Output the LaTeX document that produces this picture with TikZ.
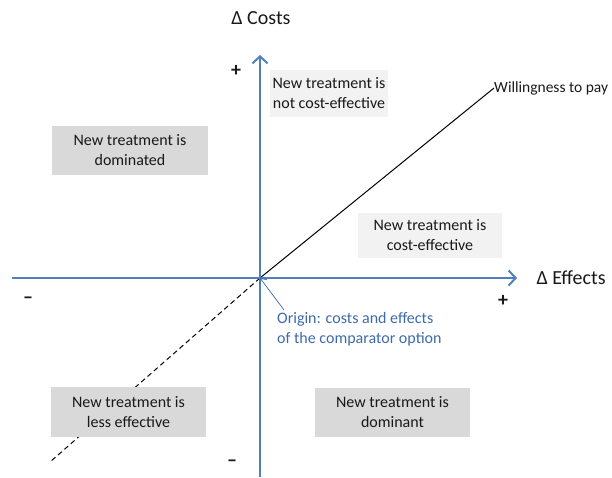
\documentclass[tikz,border=0pt]{standalone}
\usepackage{fontspec}
\setmainfont{Carlito}
\usetikzlibrary{arrows.meta}
\definecolor{axisblue}{RGB}{79,129,189}
\definecolor{noteblue}{RGB}{62,106,170}
\definecolor{darkbox}{RGB}{217,217,217}
\definecolor{lightbox}{RGB}{242,242,242}

\begin{document}
\begin{tikzpicture}[x=1pt,y=-1pt,
    every node/.style={text=black!90, font=\fontsize{16}{20}\selectfont},
    quadbox/.style={fill=darkbox, align=center, inner sep=0pt, minimum width=155pt, minimum height=49pt},
    axis/.style={axisblue, line width=2pt, -{Straight Barb[length=7pt,width=15pt,line width=2pt]}},
    bigtext/.style={font=\fontsize{20}{24}\selectfont},
    signtext/.style={font=\bfseries\fontsize{20}{24}\selectfont}]
    \useasboundingbox (0,0) rectangle (612,478);
    % axes
    \coordinate (O) at (260,278);
    \coordinate (xl) at (12,278);
    \coordinate (xr) at (517,278);
    \coordinate (yb) at (260,477);
    \coordinate (yt) at (260,55);
    \coordinate (dl) at (50,462);
    \node[bigtext] (dcost) at (261,18) {Δ Costs};
    \node[bigtext, anchor=west] (deff) at (533,278) {Δ Effects};
    \node[anchor=west, inner sep=0pt, font=\fontsize{15.5}{19}\selectfont] (wtp) at (494,88) {Willingness to pay};
    % threshold line
    \draw[black, line width=1pt] (O) -- (wtp.west);
    \draw[black, line width=1pt, dash pattern=on 5pt off 3.5pt] (O) -- (dl);
    % quadrant boxes
    \node[quadbox, fill=lightbox, minimum width=118pt, minimum height=47pt] (notce) at (329,93.5) {New treatment is\\not cost-effective};
    \node[quadbox, minimum width=156pt] (domd) at (130,150.5) {New treatment is\\dominated};
    \node[quadbox, fill=lightbox, minimum width=144pt, minimum height=45pt] (costeff) at (430,235.5) {New treatment is\\cost-effective};
    \node[quadbox, minimum height=50pt] (lesseff) at (128.5,412) {New treatment is\\less effective};
    \node[quadbox] (domt) at (392.5,412.5) {New treatment is\\dominant};
    \draw[axis] (xl) -- (xr);
    \draw[axis] (yb) -- (yt);
    % signs
    \node[signtext] (ptop) at (236,71) {+};
    \node[signtext] (pright) at (503,301) {+};
    \node[signtext] (mleft) at (28,300) {--};
    \node[signtext] (mbot) at (232,463) {--};
    % origin note
    \node[anchor=north west, align=left, inner sep=0pt, text=noteblue] (orig) at (277,312) {Origin: costs and effects\\of the comparator option};
    \draw[noteblue, line width=0.7pt, -{Straight Barb[length=5pt,width=9pt]}] (284,310) -- (O);
\end{tikzpicture}
\end{document}
